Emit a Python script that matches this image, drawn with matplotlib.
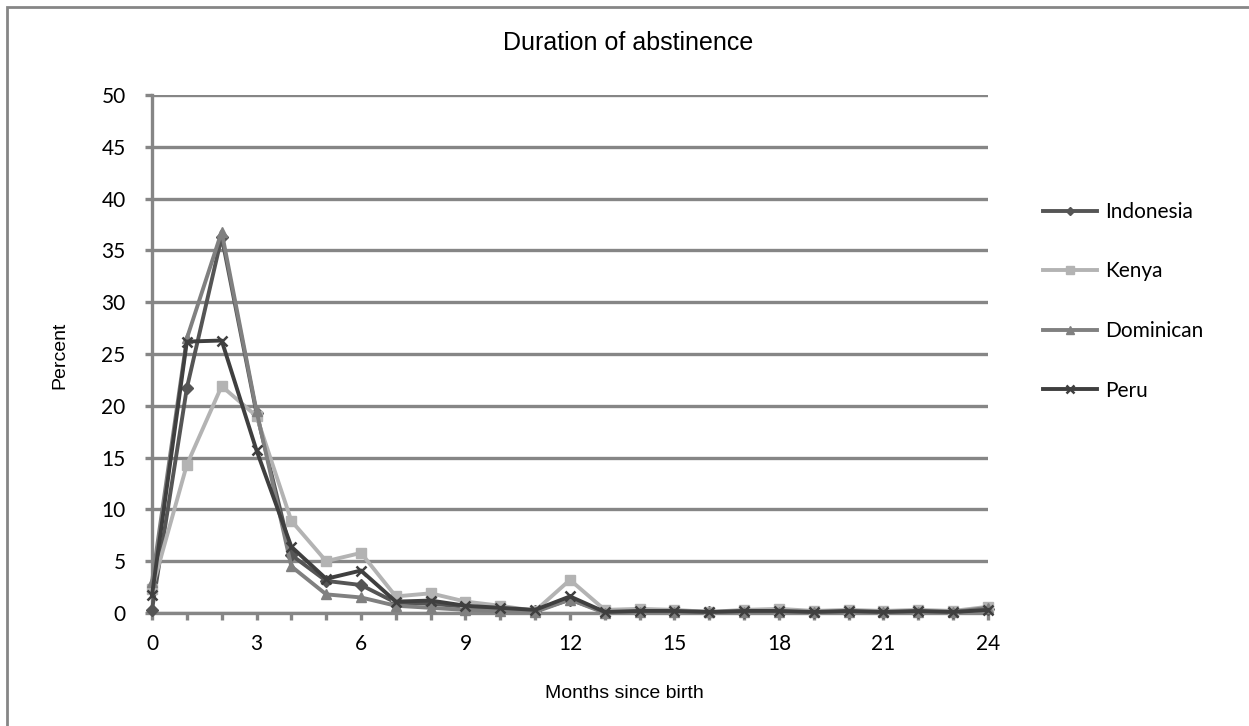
import matplotlib.pyplot as plt
from matplotlib.patches import Rectangle

months = list(range(25))
indonesia = [0.3, 21.7, 36.3, 19.3, 5.6, 3.1, 2.7, 1.0, 0.9, 0.6, 0.4, 0.2, 1.3,
             0.1, 0.2, 0.2, 0.1, 0.1, 0.2, 0.1, 0.1, 0.1, 0.1, 0.1, 0.4]
kenya = [2.3, 14.3, 21.9, 19.0, 8.9, 5.0, 5.8, 1.6, 1.9, 1.1, 0.7, 0.2, 3.2,
         0.3, 0.4, 0.3, 0.1, 0.3, 0.4, 0.2, 0.3, 0.2, 0.3, 0.2, 0.6]
dominican = [3.0, 26.5, 36.8, 19.5, 4.5, 1.8, 1.5, 0.7, 0.5, 0.3, 0.2, 0.1, 1.3,
             0.0, 0.1, 0.1, 0.1, 0.1, 0.1, 0.1, 0.1, 0.1, 0.1, 0.1, 0.5]
peru = [1.7, 26.2, 26.3, 15.7, 6.4, 3.3, 4.1, 1.1, 1.2, 0.7, 0.5, 0.3, 1.6,
        0.1, 0.2, 0.2, 0.1, 0.2, 0.2, 0.1, 0.2, 0.1, 0.2, 0.1, 0.3]

grid_c = "#868686"

fig = plt.figure(figsize=(12.49, 7.26), dpi=100)
ax = fig.add_axes([152 / 1249, 1 - 613 / 726, 836 / 1249, 518 / 726])

ax.plot(months, indonesia, color="#555555", lw=2.8, marker="D", ms=6, label="Indonesia", zorder=3)
ax.plot(months, kenya, color="#b3b3b3", lw=2.8, marker="s", ms=7, label="Kenya", zorder=3)
ax.plot(months, dominican, color="#808080", lw=2.8, marker="^", ms=7, label="Dominican", zorder=3)
ax.plot(months, peru, color="#3f3f3f", lw=2.8, marker="x", ms=7, mew=1.8, label="Peru", zorder=3)

ax.set_xlim(0, 24)
ax.set_ylim(0, 50)
ax.set_xticks(months)
ax.set_xticklabels([str(m) if m % 3 == 0 else "" for m in months])
ax.set_yticks(range(0, 51, 5))
ax.yaxis.grid(True, color=grid_c, lw=2.4)
ax.set_axisbelow(True)
for s in ["top", "right"]:
    ax.spines[s].set_visible(False)
for s in ["left", "bottom"]:
    ax.spines[s].set_color(grid_c)
    ax.spines[s].set_linewidth(2.4)
ax.tick_params(axis="both", direction="out", length=5, width=2.4, color=grid_c,
               labelsize=15, labelcolor="black")
ax.tick_params(axis="y", pad=14)
ax.tick_params(axis="x", pad=10)
for lab in ax.get_xticklabels() + ax.get_yticklabels():
    lab.set_fontfamily("Lato")
ax.margins(0)
for ln in ax.lines:
    ln.set_clip_on(False)

leg = ax.legend(loc="upper left", bbox_to_anchor=(1.043, 0.83), frameon=False,
                prop={"family": "Lato", "size": 15}, handlelength=2.6,
                labelspacing=1.9, handletextpad=0.4, markerscale=0.75)

fig.text(0.503, 1 - 43 / 726, "Duration of abstinence", ha="center", va="center",
         fontsize=18, family="Liberation Sans")
fig.text(60 / 1249, 1 - 355 / 726, "Percent", rotation=90, ha="center", va="center",
         fontsize=14, family="Liberation Sans")
fig.text(545 / 1249, 1 - 693 / 726, "Months since birth", ha="left", va="center",
         fontsize=14, family="Liberation Sans")

fig.patches.append(Rectangle((7 / 1249, -0.05), 1.1, 1 - 7 / 726 + 0.05,
                             transform=fig.transFigure, fill=False,
                             edgecolor=grid_c, lw=2))

fig.savefig("out.png", dpi=100)
